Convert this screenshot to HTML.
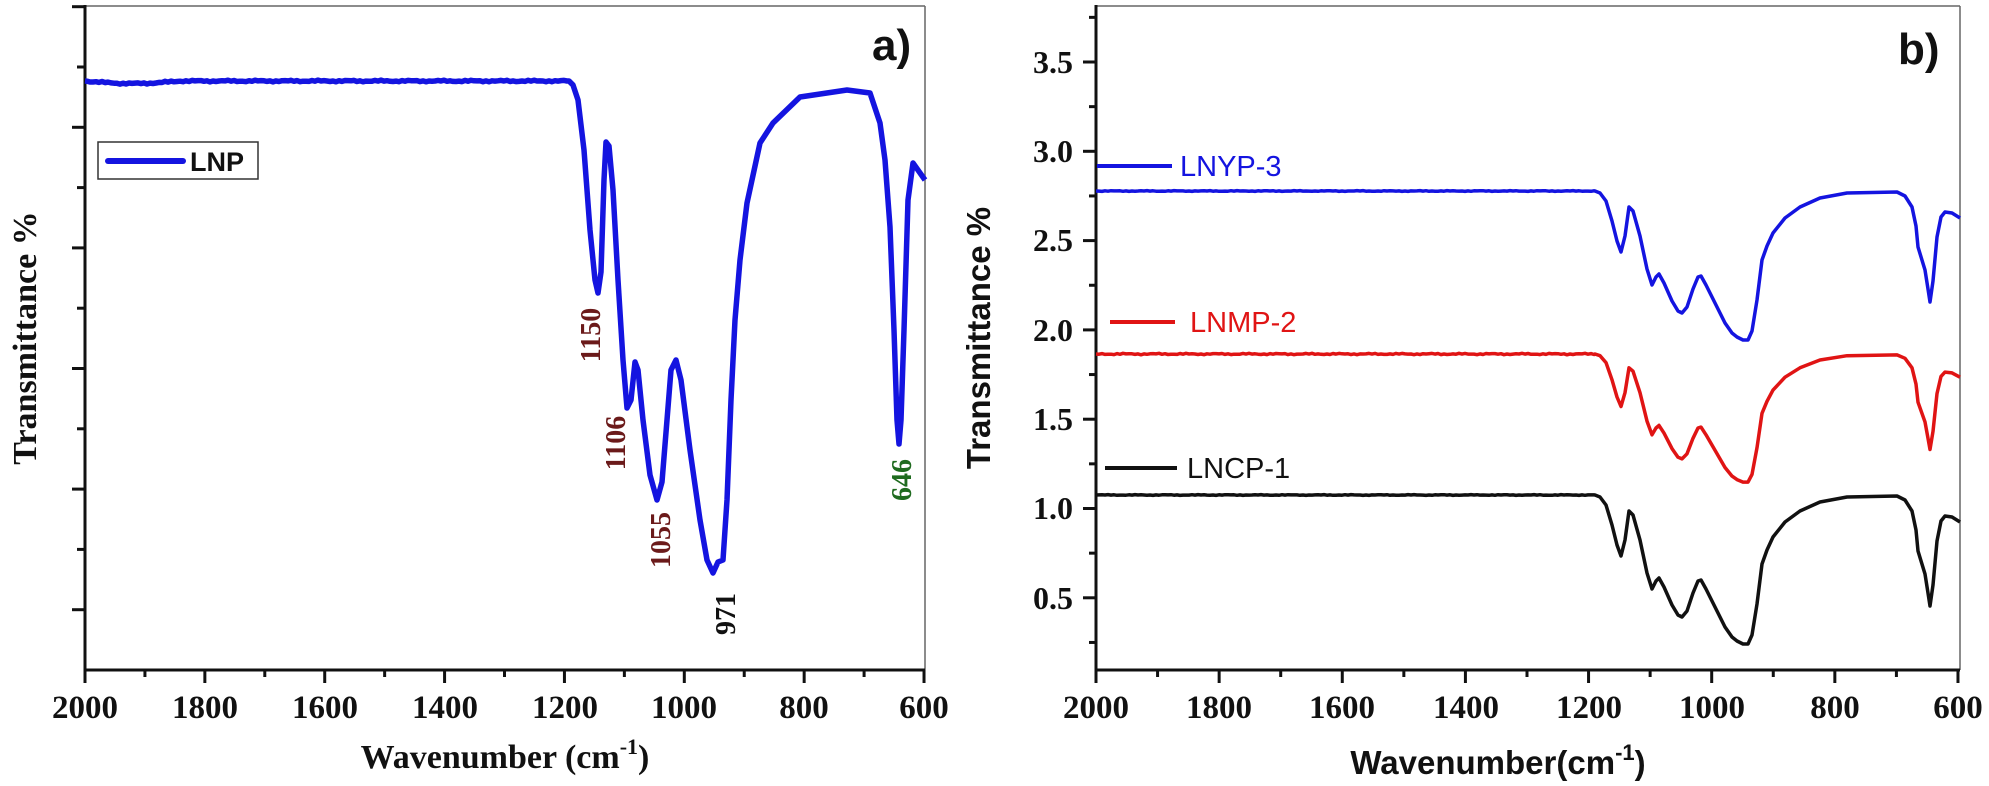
<!DOCTYPE html>
<html><head><meta charset="utf-8">
<style>
html,body{margin:0;padding:0;background:#fff;}
svg{display:block;}
.tm{font-family:"Liberation Serif",serif;font-weight:bold;fill:#111;}
.ar{font-family:"Liberation Sans",sans-serif;}
</style></head>
<body>
<svg id="s" width="1989" height="786" viewBox="0 0 1989 786" xmlns="http://www.w3.org/2000/svg">
<!-- LEFT PANEL -->
<line x1="85" y1="6" x2="925" y2="6" stroke="#666" stroke-width="1.5"/>
<line x1="925" y1="6" x2="925" y2="670" stroke="#666" stroke-width="1.5"/>
<line x1="85" y1="5" x2="85" y2="671.5" stroke="#111" stroke-width="3"/>
<line x1="83.5" y1="670" x2="925" y2="670" stroke="#111" stroke-width="3"/>
<g id="lt" stroke="#111" stroke-width="3"></g>
<g class="tm" font-size="33" text-anchor="middle">
<text x="85" y="718">2000</text><text x="205" y="718">1800</text><text x="325" y="718">1600</text>
<text x="445" y="718">1400</text><text x="565" y="718">1200</text><text x="684" y="718">1000</text>
<text x="804" y="718">800</text><text x="924" y="718">600</text>
</g>
<text class="tm" x="505" y="768" font-size="34" text-anchor="middle">Wavenumber (cm<tspan font-size="22" dy="-14">-1</tspan><tspan dy="14">)</tspan></text>
<text class="tm" font-size="34" text-anchor="middle" transform="translate(36,338) rotate(-90)">Transmittance %</text>
<text class="ar" x="872" y="60" font-size="44" font-weight="bold" fill="#111">a)</text>
<rect x="98" y="142" width="160" height="37" fill="#fff" stroke="#333" stroke-width="1.5"/>
<line x1="108" y1="161" x2="183" y2="161" stroke="#1414e0" stroke-width="6" stroke-linecap="round"/>
<text class="ar" x="190" y="171" font-size="27" font-weight="bold" fill="#111">LNP</text>
<path id="lp" fill="none" stroke="#1414e0" stroke-width="5.5" stroke-linejoin="round"/>
<g class="tm" font-size="28">
<text fill="#6b1a1a" text-anchor="middle" transform="translate(600,335) rotate(-90)">1150</text>
<text fill="#6b1a1a" text-anchor="middle" transform="translate(625,443) rotate(-90)">1106</text>
<text fill="#6b1a1a" text-anchor="middle" transform="translate(670,540) rotate(-90)">1055</text>
<text fill="#111" text-anchor="middle" transform="translate(735,614) rotate(-90)">971</text>
<text fill="#1f6b1f" text-anchor="middle" transform="translate(911,480) rotate(-90)">646</text>
</g>

<!-- RIGHT PANEL -->
<line x1="1096" y1="6" x2="1960" y2="6" stroke="#666" stroke-width="1.5"/>
<line x1="1960" y1="6" x2="1960" y2="670" stroke="#666" stroke-width="1.5"/>
<line x1="1096" y1="5" x2="1096" y2="671.5" stroke="#111" stroke-width="3"/>
<line x1="1094.5" y1="670" x2="1960" y2="670" stroke="#111" stroke-width="3"/>
<g id="rt" stroke="#111" stroke-width="3"></g>
<g class="tm" font-size="33" text-anchor="middle">
<text x="1096" y="718">2000</text><text x="1219" y="718">1800</text><text x="1342" y="718">1600</text>
<text x="1466" y="718">1400</text><text x="1589" y="718">1200</text><text x="1712" y="718">1000</text>
<text x="1835" y="718">800</text><text x="1958" y="718">600</text>
</g>
<g class="tm" font-size="32" text-anchor="end">
<text x="1073" y="73">3.5</text><text x="1073" y="162">3.0</text><text x="1073" y="251">2.5</text>
<text x="1073" y="341">2.0</text><text x="1073" y="430">1.5</text><text x="1073" y="519">1.0</text>
<text x="1073" y="609">0.5</text>
</g>
<text class="ar" x="1498" y="774" font-size="33" font-weight="bold" text-anchor="middle" fill="#111">Wavenumber(cm<tspan font-size="22" dy="-14">-1</tspan><tspan dy="14">)</tspan></text>
<text class="ar" font-size="33" font-weight="bold" fill="#111" text-anchor="middle" transform="translate(990,338) rotate(-90)">Transmittance %</text>
<text class="ar" x="1898" y="64" font-size="44" font-weight="bold" fill="#111">b)</text>
<line x1="1097" y1="166" x2="1172" y2="166" stroke="#1414e0" stroke-width="4"/>
<text class="ar" x="1180" y="176" font-size="29" fill="#1414e0">LNYP-3</text>
<line x1="1110" y1="322" x2="1175" y2="322" stroke="#e01414" stroke-width="4"/>
<text class="ar" x="1190" y="332" font-size="29" fill="#e01414">LNMP-2</text>
<line x1="1105" y1="468" x2="1177" y2="468" stroke="#111" stroke-width="4"/>
<text class="ar" x="1187" y="478" font-size="29" fill="#111">LNCP-1</text>
<path id="rb" fill="none" stroke="#1414e0" stroke-width="3.5" stroke-linejoin="round"/>
<path id="rr" fill="none" stroke="#e01414" stroke-width="3.5" stroke-linejoin="round"/>
<path id="rk" fill="none" stroke="#111" stroke-width="3.5" stroke-linejoin="round"/>
</svg>
<script>
(function(){
var NS="http://www.w3.org/2000/svg";
function tick(g,x1,y1,x2,y2){var l=document.createElementNS(NS,"line");l.setAttribute("x1",x1);l.setAttribute("y1",y1);l.setAttribute("x2",x2);l.setAttribute("y2",y2);document.getElementById(g).appendChild(l);}
for(var k=-1;k<=9;k++){var y=67+k*60.3;var lng=(k%2!==0);tick("lt",85,y,lng?72:77,y);}
for(var i=0;i<=14;i++){var x=85+i*59.93;tick("lt",x,670,x,i%2==0?683:677);}
for(var i=0;i<=14;i++){var x=1096+i*61.57;tick("rt",x,670,x,i%2==0?683:677);}
for(var v=0.25;v<=3.76;v+=0.25){var y=62+(3.5-v)*178.6;var maj=Math.abs(v*2-Math.round(v*2))<0.01;tick("rt",1096,y,maj?1083:1089,y);}
function noise(seed,x){return Math.sin(x*0.9+seed)*0.6+Math.sin(x*2.3+seed*2)*0.5;}
var L=[[569,81],[573,85],[578,100],[584,150],[590,230],[595,280],[598,293],[601,272],[604,180],[606,142],[609,146],[613,190],[618,280],[623,360],[627,408],[631,400],[635,362],[638,370],[643,420],[650,475],[657,500],[662,482],[667,420],[671,370],[676,360],[681,380],[690,450],[700,520],[707,560],[713,573],[718,562],[723,560],[727,500],[731,400],[735,320],[740,260],[747,203],[760,143],[773,123],[800,97],[847,90],[870,93],[880,123],[885,160],[890,227],[894,330],[897,420],[899,444],[901,420],[904,330],[908,200],[913,163],[925,180]];
var d="M85,81";
for(var x=87;x<569;x+=3){var b=81;if(x<180)b=81+2.5*Math.sin((x-85)/95*Math.PI);d+=" L"+x+","+(b+noise(1,x)*0.8).toFixed(1);}
L.forEach(function(p){d+=" L"+p[0]+","+p[1];});
document.getElementById("lp").setAttribute("d",d);
var R=[[1595,0],[1600,2],[1606,10],[1612,30],[1617,50],[1621,61],[1625,45],[1629,16],[1633,20],[1640,45],[1647,78],[1652,94],[1656,86],[1659,83],[1664,92],[1672,110],[1678,120],[1682,122],[1687,116],[1693,98],[1698,86],[1701,85],[1706,94],[1715,112],[1725,132],[1732,142],[1737,146],[1743,149],[1748,149],[1752,140],[1757,109],[1760,85],[1762,69],[1767,55],[1773,42],[1785,27],[1800,16],[1820,7],[1847,2],[1897,1],[1905,5],[1912,16],[1916,35],[1918,56],[1925,79],[1928,98],[1930,111],[1933,90],[1937,46],[1941,26],[1945,21],[1952,22],[1960,27]];
function mk(id,base,sc,seed,amp){var d="M1096,"+base;for(var x=1099;x<1595;x+=3){d+=" L"+x+","+(base+noise(seed,x)*amp).toFixed(1);}
R.forEach(function(p){d+=" L"+p[0]+","+(base+p[1]*sc).toFixed(1);});document.getElementById(id).setAttribute("d",d);}
mk("rb",191,1,3,0.4);mk("rr",354,0.86,5,0.7);mk("rk",495,1,7,0.4);
})();
</script>
</body></html>
